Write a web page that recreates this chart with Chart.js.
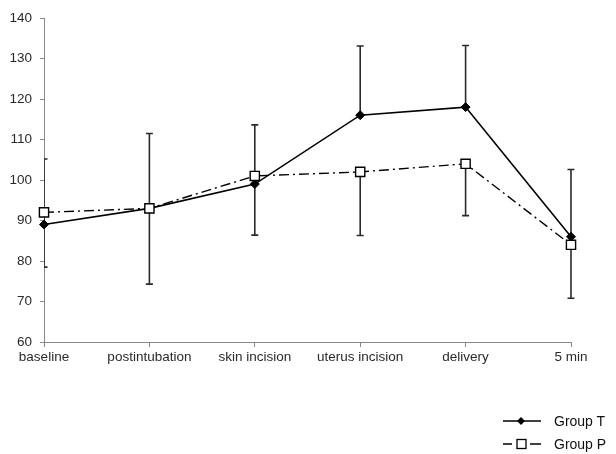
<!DOCTYPE html>
<html>
<head>
<meta charset="utf-8">
<script src="https://cdn.jsdelivr.net/npm/chart.js@4/dist/chart.umd.min.js"></script>
<style>
  html, body { margin: 0; padding: 0; background: #fff; }
  #wrap { position: relative; width: 616px; height: 454px; }
  #legend { position: absolute; left: 503px; top: 409px; font-family: "Liberation Sans", Arial, sans-serif; font-size: 14px; color: #111; }
  #legend .item { display: flex; align-items: center; height: 23px; }
  #legend svg { margin-right: 13px; }
</style>
</head>
<body>
<div id="wrap">
  <canvas id="c" width="616" height="454"></canvas>
  <div id="legend"></div>
</div>
<script>
// ---- data ----
const categories = ["baseline", "postintubation", "skin incision", "uterus incision", "delivery", "5 min"];
const groupT = [89, 93, 99, 116, 118, 86];
const groupP = [92, 93, 101, 102, 104, 84];
const groupTErrPlus = [16.2, 18.5, 14.6, 17.1, 15.2, 16.6];
const groupPErrMinus = [13.5, 18.7, 14.6, 15.7, 12.8, 13.2];
const yTicks = [60, 70, 80, 90, 100, 110, 120, 130, 140];
const seriesNames = ["Group T", "Group P"];

const errorBars = {
  id: 'errorBars',
  beforeDatasetsDraw(chart) {
    const { ctx, chartArea: a, scales: { x, y } } = chart;
    ctx.save();
    ctx.beginPath();
    ctx.rect(a.left, 0, chart.width - a.left, chart.height);
    ctx.clip();
    ctx.strokeStyle = '#2a2a2a';
    ctx.lineWidth = 1.6;
    const cap = 3.5;
    chart.data.datasets.forEach(ds => {
      ds.data.forEach((v, i) => {
        const px = x.getPixelForValue(i);
        const p0 = y.getPixelForValue(v);
        const plus = ds.errPlus ? ds.errPlus[i] : 0;
        const minus = ds.errMinus ? ds.errMinus[i] : 0;
        const segs = [];
        if (plus) segs.push(y.getPixelForValue(v + plus));
        if (minus) segs.push(y.getPixelForValue(v - minus));
        segs.forEach(pe => {
          ctx.beginPath();
          ctx.moveTo(px, p0);
          ctx.lineTo(px, pe);
          ctx.moveTo(px - cap, pe);
          ctx.lineTo(px + cap, pe);
          ctx.stroke();
        });
      });
    });
    ctx.restore();
  }
};

const htmlLegend = {
  id: 'htmlLegend',
  afterUpdate(chart) {
    const box = document.getElementById('legend');
    box.innerHTML = '';
    chart.data.datasets.forEach(ds => {
      const item = document.createElement('div');
      item.className = 'item';
      let svg;
      if (ds.pointStyle === 'rectRot') {
        svg = '<svg width="38" height="12"><line x1="0" y1="6" x2="38" y2="6" stroke="#000" stroke-width="1.5"/><polygon points="18,2 22,6 18,10 14,6" fill="#000"/></svg>';
      } else {
        svg = '<svg width="38" height="12"><line x1="0" y1="6" x2="9" y2="6" stroke="#000" stroke-width="1.5"/><line x1="27" y1="6" x2="38" y2="6" stroke="#000" stroke-width="1.5"/><rect x="14" y="1.5" width="9" height="9" fill="#fff" stroke="#000" stroke-width="1.3"/></svg>';
      }
      item.innerHTML = svg;
      const span = document.createElement('span');
      span.textContent = ds.label;
      item.appendChild(span);
      box.appendChild(item);
    });
  }
};

const font = { family: '"Liberation Sans", Arial, sans-serif', size: 13.5 };

new Chart(document.getElementById('c'), {
  type: 'line',
  data: {
    labels: categories,
    datasets: [
      {
        label: seriesNames[0],
        data: groupT,
        errPlus: groupTErrPlus,
        borderColor: '#000',
        backgroundColor: '#000',
        borderWidth: 1.6,
        pointStyle: 'rectRot',
        pointRadius: 4.5,
        pointBorderWidth: 1,
        pointBackgroundColor: '#000',
        pointBorderColor: '#000',
        tension: 0,
        order: 1,
        clip: false
      },
      {
        label: seriesNames[1],
        data: groupP,
        errMinus: groupPErrMinus,
        borderColor: '#000',
        backgroundColor: '#fff',
        borderWidth: 1.4,
        borderDash: [10, 4, 2, 4],
        pointStyle: 'rect',
        pointRadius: 6.5,
        pointBorderWidth: 1.4,
        pointBackgroundColor: '#fff',
        pointBorderColor: '#000',
        tension: 0,
        order: 0,
        clip: false
      }
    ]
  },
  options: {
    responsive: false,
    animation: false,
    events: [],
    layout: { padding: { left: 0, right: 45, top: 18, bottom: 82 } },
    plugins: {
      legend: { display: false },
      tooltip: { enabled: false }
    },
    scales: {
      x: {
        type: 'category',
        offset: false,
        grid: { display: true, drawOnChartArea: false, drawTicks: true, tickLength: 5, color: '#888', offset: false },
        border: { display: true, color: '#888', width: 1 },
        ticks: { color: '#2a2a2a', font: font, padding: 2, maxRotation: 0, autoSkip: false },
        afterFit(s) { s.height = 30; }
      },
      y: {
        min: 60,
        max: 140,
        afterBuildTicks(s) { s.ticks = yTicks.map(v => ({ value: v })); },
        grid: { display: true, drawOnChartArea: false, drawTicks: true, tickLength: 4, color: '#888' },
        border: { display: true, color: '#888', width: 1 },
        ticks: { color: '#2a2a2a', font: font, padding: 8 },
        afterFit(s) { s.width = 44; }
      }
    }
  },
  plugins: [errorBars, htmlLegend]
});
</script>
</body>
</html>
